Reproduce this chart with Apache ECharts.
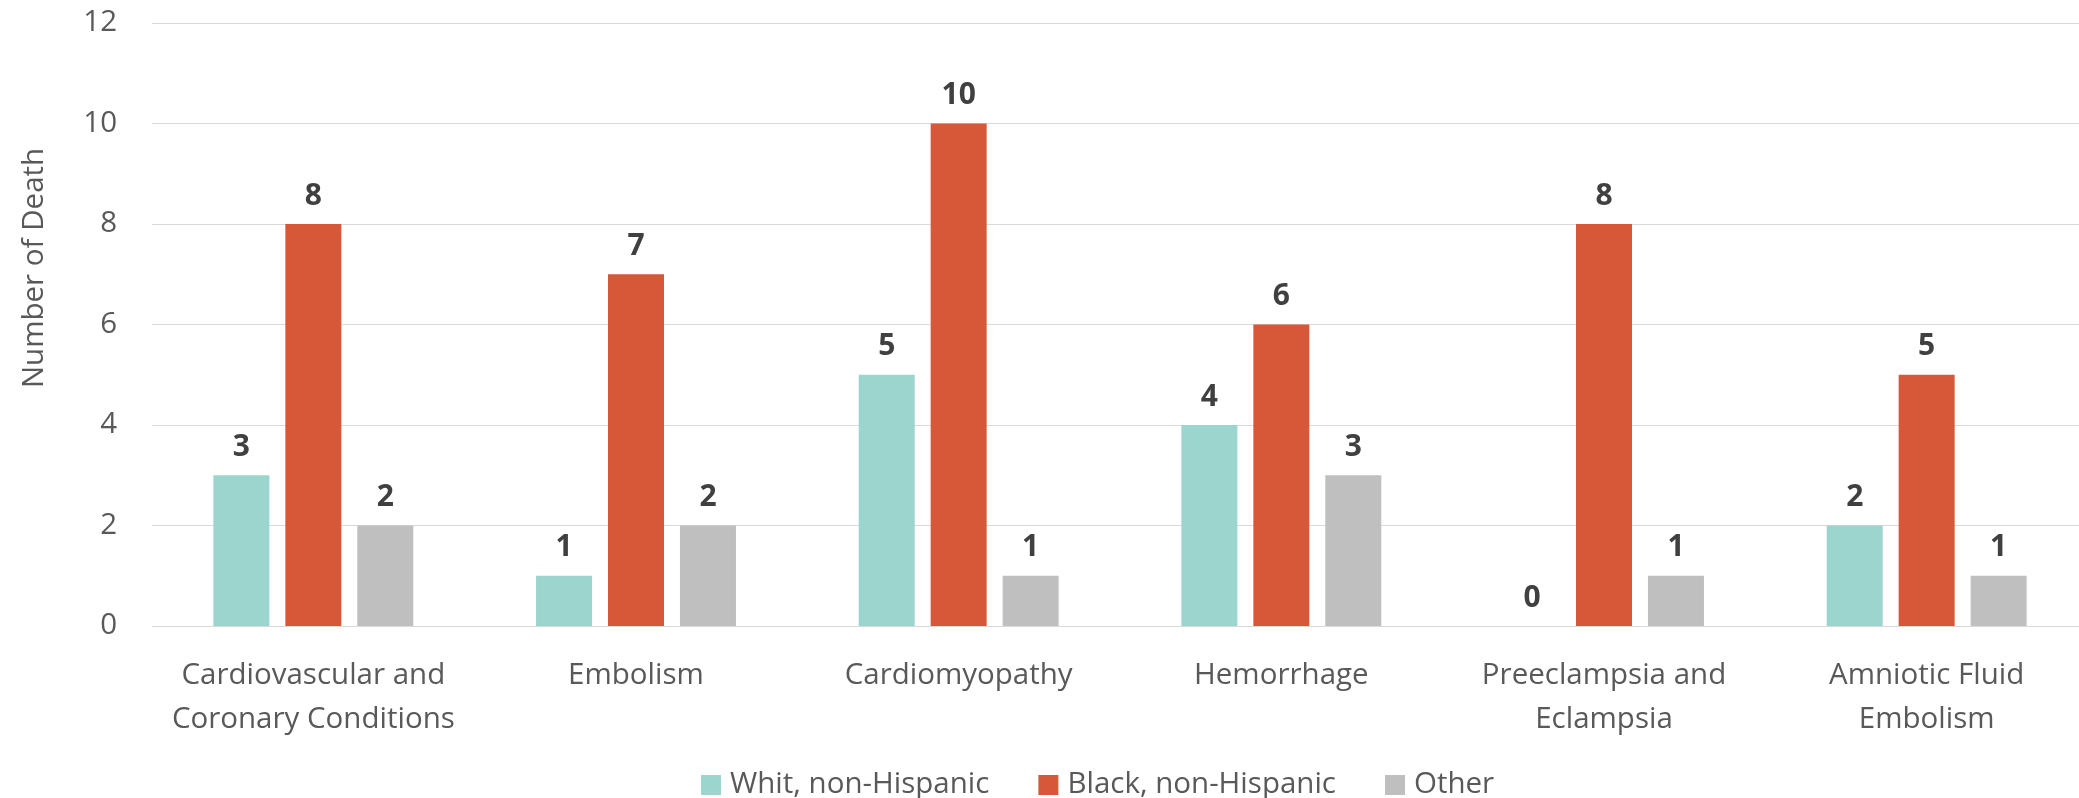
<!DOCTYPE html>
<html>
<head>
<meta charset="utf-8">
<title>Number of Death by Cause and Race</title>
<script src="https://cdn.jsdelivr.net/npm/echarts@6/dist/echarts.min.js"></script>
<style>
  html, body { margin: 0; padding: 0; background: #ffffff; overflow: hidden; }
  /* the plot area runs slightly past the right edge of the view */
  #chart { width: 2090px; height: 798px; }
</style>
</head>
<body>
<div id="chart"></div>
<script>
// Causes of death along the category axis
const categories = [
  'Cardiovascular and\nCoronary Conditions',
  'Embolism',
  'Cardiomyopathy',
  'Hemorrhage',
  'Preeclampsia and\nEclampsia',
  'Amniotic Fluid\nEmbolism'
];

// Deaths per group
const whiteNonHispanic = [3, 1, 5, 4, 0, 2];
const blackNonHispanic = [8, 7, 10, 6, 8, 5];
const otherGroup = [2, 2, 1, 3, 1, 1];

const seriesNames = ['Whit, non-Hispanic', 'Black, non-Hispanic', 'Other'];
const yAxisTitle = 'Number of Death';

const FONT = "'Open Sans', 'Noto Sans', sans-serif";
const colors = ['#9CD5CE', '#D65838', '#BFBFBF'];

const chart = echarts.init(document.getElementById('chart'), null, { renderer: 'canvas' });

function barSeries(name, data, color) {
  return {
    name: name,
    type: 'bar',
    data: data,
    barWidth: 56,
    barGap: '28.5%',
    itemStyle: { color: color },
    label: {
      show: true,
      position: 'top',
      distance: 13,
      color: '#404040',
      fontFamily: FONT,
      fontWeight: 'bold',
      fontSize: 30,
      lineHeight: 30
    },
    emphasis: { disabled: true }
  };
}

chart.setOption({
  animation: false,
  color: colors,
  grid: { left: 152, top: 23, width: 1936, height: 603, containLabel: false },
  legend: {
    data: seriesNames,
    left: 696,
    top: 765,
    icon: 'rect',
    itemWidth: 20,
    itemHeight: 20,
    itemGap: 49,
    textStyle: {
      color: '#595959',
      fontFamily: FONT,
      fontSize: 29.5,
      lineHeight: 30,
      padding: [0, 0, 0, 4]
    }
  },
  xAxis: {
    type: 'category',
    data: categories,
    axisLine: { show: true, lineStyle: { color: '#D9D9D9', width: 1 } },
    axisTick: { show: false },
    axisLabel: {
      interval: 0,
      margin: 28,
      color: '#595959',
      fontFamily: FONT,
      fontSize: 29.5,
      lineHeight: 44
    }
  },
  yAxis: {
    type: 'value',
    min: 0,
    max: 12,
    interval: 2,
    axisLine: { show: false },
    axisTick: { show: false },
    splitLine: { lineStyle: { color: '#D9D9D9', width: 1 } },
    axisLabel: {
      margin: 35,
      color: '#595959',
      fontFamily: FONT,
      fontSize: 29.5
    }
  },
  graphic: [{
    type: 'text',
    x: 35,
    y: 268,
    rotation: Math.PI / 2,
    style: {
      text: yAxisTitle,
      fill: '#595959',
      font: '29.5px ' + FONT,
      align: 'center',
      verticalAlign: 'middle'
    }
  }],
  series: [
    barSeries(seriesNames[0], whiteNonHispanic, colors[0]),
    barSeries(seriesNames[1], blackNonHispanic, colors[1]),
    barSeries(seriesNames[2], otherGroup, colors[2])
  ]
});
</script>
</body>
</html>
